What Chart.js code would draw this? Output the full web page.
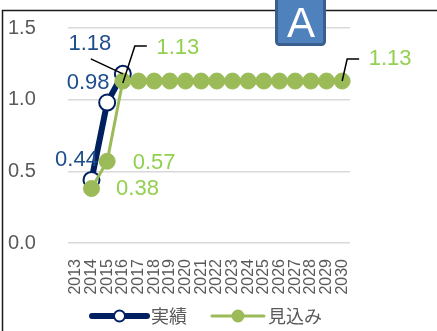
<!DOCTYPE html>
<html>
<head>
<meta charset="utf-8">
<script src="https://cdn.jsdelivr.net/npm/chart.js@4/dist/chart.umd.min.js"></script>
<style>
  html, body { margin: 0; padding: 0; background: #fff; }
  #wrap { width: 437px; height: 331px; }
</style>
</head>
<body>
<div id="wrap"><canvas id="c" width="437" height="331"></canvas></div>
<script>
// data
const years = ['2013', '2014', '2015', '2016', '2017', '2018', '2019', '2020', '2021',
  '2022', '2023', '2024', '2025', '2026', '2027', '2028', '2029', '2030'];
const actual = [null, 0.44, 0.98, 1.18, null, null, null, null, null,
  null, null, null, null, null, null, null, null, null];
const forecast = [null, 0.38, 0.57, 1.13, 1.13, 1.13, 1.13, 1.13, 1.13,
  1.13, 1.13, 1.13, 1.13, 1.13, 1.13, 1.13, 1.13, 1.13];
const yTicks = [0, 0.5, 1.0, 1.5];
const seriesNames = ['実績', '見込み'];

const NAVY = '#002060';
const NAVY_TXT = '#1F4E8C';
const GREEN = '#9BBB59';
const GREEN_TXT = '#92D050';
const FONT = '"Liberation Sans", "Noto Sans CJK JP", sans-serif';

// where each data label sits, relative to its point
const labelSpots = [
  { 1: { dx: -15, dy: -20 }, 2: { dx: -19, dy: -20 },
    3: { dx: -33, dy: -30, leader: [[0, 0], [-32, -15]] } },
  { 1: { dx: 46, dy: 0 }, 2: { dx: 47, dy: 2 },
    3: { dx: 55, dy: -33, leader: [[0, 2], [12, -35], [24, -35]] },
    17: { dx: 48, dy: -22, leader: [[0, 0], [5, -22], [17, -22]] } }
];

const labelPlugin = {
  id: 'labels',
  afterDatasetsDraw(chart) {
    const ctx = chart.ctx;
    ctx.save();
    ctx.font = '22px ' + FONT;
    ctx.textAlign = 'center';
    ctx.textBaseline = 'middle';
    [1, 0].forEach(di => {
      const meta = chart.getDatasetMeta(di);
      const ds = chart.data.datasets[di];
      Object.keys(labelSpots[di]).forEach(k => {
        const i = +k;
        const pt = meta.data[i];
        const s = labelSpots[di][k];
        if (s.leader) {
          ctx.strokeStyle = '#000';
          ctx.lineWidth = 1.5;
          ctx.beginPath();
          s.leader.forEach((p, j) => {
            if (j === 0) ctx.moveTo(pt.x + p[0], pt.y + p[1]);
            else ctx.lineTo(pt.x + p[0], pt.y + p[1]);
          });
          ctx.stroke();
        }
        ctx.fillStyle = di === 0 ? NAVY_TXT : GREEN_TXT;
        ctx.fillText(ds.data[i].toFixed(2), pt.x + s.dx, pt.y + s.dy);
      });
    });
    ctx.restore();
  }
};

const framePlugin = {
  id: 'frame',
  afterDraw(chart) {
    const ctx = chart.ctx;
    ctx.save();
    // outer frame
    ctx.strokeStyle = '#1a1a1a';
    ctx.lineWidth = 1.5;
    ctx.beginPath();
    ctx.moveTo(2.5, 331);
    ctx.lineTo(2.5, 10.5);
    ctx.lineTo(437, 10.5);
    ctx.stroke();
    // badge
    ctx.fillStyle = '#4F81BD';
    ctx.strokeStyle = '#3A5F8E';
    ctx.lineWidth = 3;
    ctx.beginPath();
    ctx.roundRect(276.5, -5, 48, 49.5, 3);
    ctx.fill();
    ctx.stroke();
    ctx.fillStyle = '#fff';
    ctx.font = '42px ' + FONT;
    ctx.textAlign = 'center';
    ctx.textBaseline = 'alphabetic';
    ctx.fillText('A', 301, 37);
    // legend
    ctx.font = '18px "Noto Sans CJK JP", sans-serif';
    ctx.textBaseline = 'middle';
    ctx.textAlign = 'left';
    const ly = 316;
    const items = [
      { x0: 92, x1: 147, color: NAVY, w: 6, fill: '#fff', text: seriesNames[0] },
      { x0: 212, x1: 264, color: GREEN, w: 3, fill: GREEN, text: seriesNames[1] }
    ];
    items.forEach(it => {
      ctx.strokeStyle = it.color;
      ctx.lineWidth = it.w;
      ctx.lineCap = 'round';
      ctx.beginPath();
      ctx.moveTo(it.x0, ly);
      ctx.lineTo(it.x1, ly);
      ctx.stroke();
      ctx.beginPath();
      ctx.arc((it.x0 + it.x1) / 2, ly, 5.5, 0, Math.PI * 2);
      ctx.fillStyle = it.fill;
      ctx.fill();
      ctx.lineWidth = 2;
      ctx.strokeStyle = it.color;
      ctx.stroke();
      ctx.fillStyle = '#595959';
      ctx.fillText(it.text, it.x1 + 4, ly);
    });
    ctx.restore();
  }
};

new Chart(document.getElementById('c'), {
  type: 'line',
  data: {
    labels: years,
    datasets: [
      {
        label: seriesNames[0],
        data: actual,
        borderColor: NAVY,
        borderWidth: 6,
        pointRadius: 8,
        pointBorderWidth: 2,
        pointBackgroundColor: '#fff',
        pointBorderColor: NAVY,
        order: 2
      },
      {
        label: seriesNames[1],
        data: forecast,
        borderColor: GREEN,
        borderWidth: 3,
        pointRadius: 8,
        pointBorderWidth: 1,
        pointBackgroundColor: GREEN,
        pointBorderColor: GREEN,
        order: 1
      }
    ]
  },
  options: {
    responsive: false,
    animation: false,
    events: [],
    layout: { padding: { left: 8, right: 87, top: 28, bottom: 36 } },
    plugins: {
      legend: { display: false },
      tooltip: { enabled: false }
    },
    scales: {
      x: {
        offset: true,
        grid: { display: false },
        border: { display: false },
        ticks: {
          autoSkip: false,
          minRotation: 90,
          maxRotation: 90,
          padding: 8,
          color: '#595959',
          font: { family: FONT, size: 16 }
        },
        afterFit(scale) { scale.height = 52; }
      },
      y: {
        min: 0,
        max: 1.5,
        afterBuildTicks(scale) { scale.ticks = yTicks.map(v => ({ value: v })); },
        grid: { color: '#D9D9D9', lineWidth: 1.5, drawTicks: false },
        border: { display: false },
        ticks: {
          crossAlign: 'far',
          padding: 0,
          color: '#595959',
          font: { family: FONT, size: 20 },
          callback: v => v.toFixed(1)
        },
        afterFit(scale) { scale.width = 60; }
      }
    }
  },
  plugins: [labelPlugin, framePlugin]
});
</script>
</body>
</html>
